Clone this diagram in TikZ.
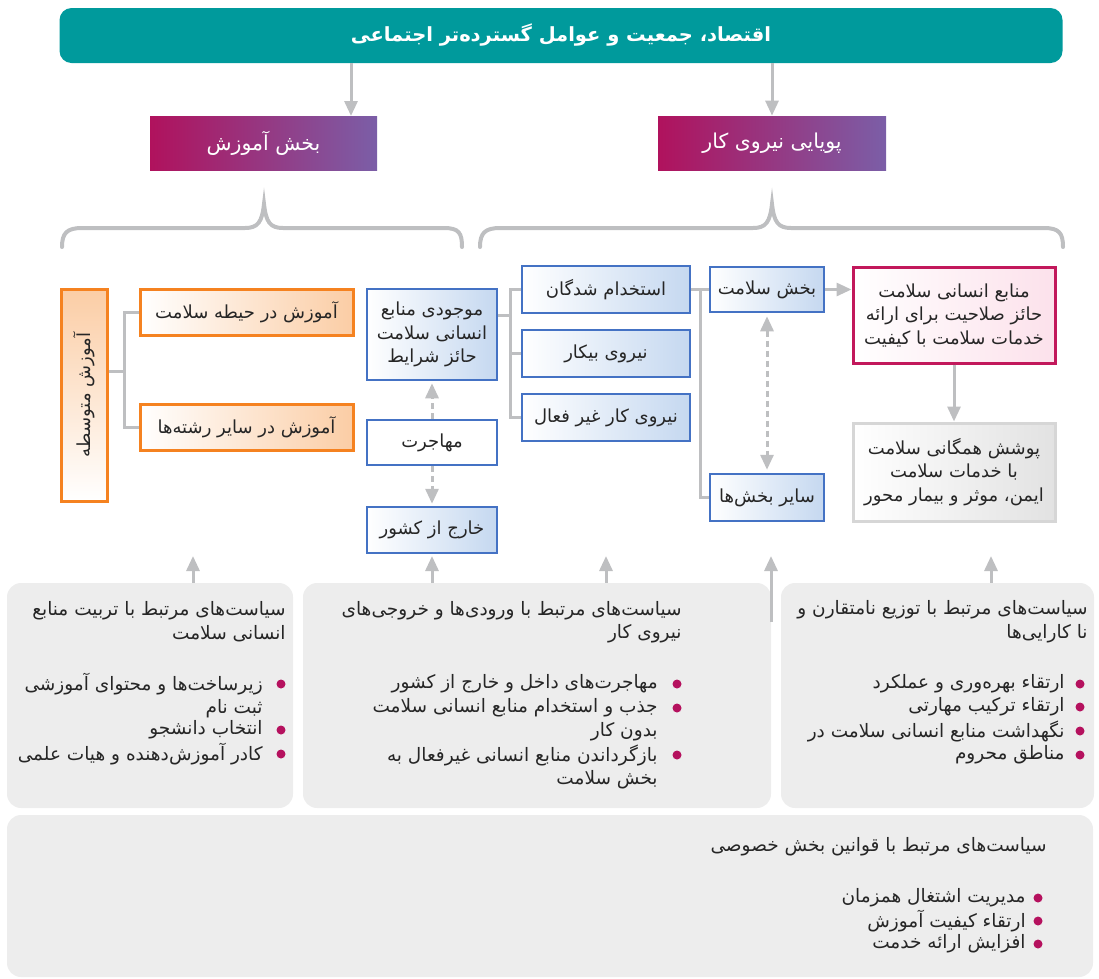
\documentclass[tikz,border=0pt]{standalone}
\usepackage{graphicx}
\usepackage{fontspec}
\usetikzlibrary{arrows.meta}
\newfontfamily\arabicfont[Script=Arabic]{DejaVu Sans}
\TeXXeTstate=1
\newcommand{\fa}[1]{{\arabicfont\beginR #1\endR}}

\definecolor{tealbar}{RGB}{0,154,156}
\definecolor{linegray}{RGB}{190,191,193}
\definecolor{magentaA}{RGB}{176,18,93}
\definecolor{purpleB}{RGB}{123,94,167}
\definecolor{orangeB}{RGB}{245,130,32}
\definecolor{orangeL}{RGB}{251,205,165}
\definecolor{blueB}{RGB}{68,114,196}
\definecolor{blueL}{RGB}{197,216,240}
\definecolor{pinkB}{RGB}{194,24,91}
\definecolor{pinkL}{RGB}{252,225,235}
\definecolor{grayB}{RGB}{214,214,214}
\definecolor{grayL}{RGB}{226,226,226}
\definecolor{policy}{RGB}{237,237,237}
\definecolor{dotc}{RGB}{181,17,94}

\tikzset{every picture/.style={line width=0.75pt}}
\tikzset{
  box/.style={rectangle, inner sep=2pt, align=center, text=black!85,
    font=\fontsize{18}{23.5}\selectfont},
  orangeline/.style={box, draw=orangeB, line width=3pt},
  orangebox/.style={orangeline, left color=white, right color=orangeL},
  bluebox/.style={box, draw=blueB, line width=2.5pt, left color=white, right color=blueL},
  sectorbox/.style={rectangle, minimum width=227pt, minimum height=54pt, text=white,
    left color=magentaA, right color=purpleB, font=\fontsize{20.5}{24}\selectfont},
  policybox/.style={rectangle, fill=policy, rounded corners=14pt},
  ptext/.style={inner sep=0pt, align=right, text=black!85, font=\fontsize{18.5}{23.5}\selectfont},
  dot/.style={circle, fill=dotc, inner sep=0pt, minimum size=9pt},
  conn/.style={draw=linegray, line width=3pt},
  arr/.style={conn, -{Triangle[width=13pt,length=15pt]}},
  dasharr/.style={arr, dash pattern=on 6pt off 4pt},
  brace/.style={draw=linegray, line width=4pt, line cap=round}
}

\begin{document}
\begin{tikzpicture}[x=1pt,y=1pt,yscale=-1]
\useasboundingbox (0,0) rectangle (1099,978);

%Shape: Rounded Rect
\node[rectangle, fill=tealbar, rounded corners=12pt, minimum width=1003pt, minimum height=55pt,
  text=white, font=\fontsize{19.5}{22}\selectfont\bfseries] (top) at (561,35.5)
  {\fa{اقتصاد، جمعیت و عوامل گسترده‌تر اجتماعی}};

% Text Node
\node[sectorbox] (eduhead) at (263.5,143) {\fa{بخش آموزش}};
\node[sectorbox, minimum width=228pt] (labhead) at (772,143) {\fa{پویایی نیروی کار}};

%Straight Lines
\coordinate (a1) at (351,116);
\draw[arr] (top.south -| a1) -- (a1);
\draw[arr] (top.south -| labhead.north) -- (labhead.north);

%Curve Lines
\draw[brace] (62,247) .. controls (62,233) and (67,228) .. (82,228) -- (245,228)
  .. controls (258,228) and (262,222) .. (264,204) .. controls (266,222) and (270,228) .. (283,228)
  -- (444,228) .. controls (459,228) and (462,233) .. (462,247);
\draw[brace] (480,247) .. controls (480,233) and (485,228) .. (500,228) -- (753,228)
  .. controls (766,228) and (770,222) .. (772,204) .. controls (774,222) and (778,228) .. (791,228)
  -- (1044,228) .. controls (1059,228) and (1063,233) .. (1063,247);

%Shape: Rectangle
\node[orangeline, minimum width=46pt, minimum height=212pt,
  top color=orangeL, bottom color=white] (sec) at (84,395)
  {\rotatebox{90}{\fa{آموزش متوسطه}}};
\node[orangebox, minimum width=213pt, minimum height=46pt] (eduH) at (246.5,312) {\fa{آموزش در حیطه سلامت}};
\node[orangebox, minimum width=213pt, minimum height=46pt] (eduO) at (246.5,427) {\fa{آموزش در سایر رشته‌ها}};

\node[bluebox, minimum width=130pt, minimum height=91pt] (stock) at (432,334.5)
  {\fa{موجودی منابع}\\\fa{انسانی سلامت}\\\fa{حائز شرایط}};
\node[box, draw=blueB, line width=2.5pt, fill=white, minimum width=130pt, minimum height=45pt] (migr) at (432,442.5) {\fa{مهاجرت}};
\node[bluebox, minimum width=130pt, minimum height=46pt] (abroad) at (432,530) {\fa{خارج از کشور}};

\node[bluebox, minimum width=168pt, minimum height=47pt] (empl) at (606,289.5) {\fa{استخدام شدگان}};
\node[bluebox, minimum width=168pt, minimum height=47pt] (unemp) at (606,353.5) {\fa{نیروی بیکار}};
\node[bluebox, minimum width=168pt, minimum height=47pt] (inact) at (606,417.5) {\fa{نیروی کار غیر فعال}};

\node[bluebox, minimum width=114pt, minimum height=45pt] (hsec) at (767,289.5) {\fa{بخش سلامت}};
\node[bluebox, minimum width=114pt, minimum height=47pt] (osec) at (767,497.5) {\fa{سایر بخش‌ها}};

\node[box, draw=pinkB, line width=3pt, left color=white, right color=pinkL,
  minimum width=202pt, minimum height=96pt] (qual) at (954,315)
  {\fa{منابع انسانی سلامت}\\\fa{حائز صلاحیت برای ارائه}\\\fa{خدمات سلامت با کیفیت}};
\node[box, draw=grayB, line width=3pt, left color=white, right color=grayL,
  minimum width=202pt, minimum height=98pt] (uhc) at (954,472)
  {\fa{پوشش همگانی سلامت}\\\fa{با خدمات سلامت}\\\fa{ایمن، موثر و بیمار محور}};

%Straight Lines
\coordinate (j1) at (124,371);
\draw[conn] (sec.east |- j1) -- (j1);
\draw[conn] (j1) |- (eduH.west);
\draw[conn] (j1) |- (eduO.west);

\coordinate (j2) at (510,315);
\draw[conn] (stock.east |- j2) -- (j2);
\draw[conn] (j2) |- (empl.west);
\draw[conn] (j2) |- (unemp.west);
\draw[conn] (j2) |- (inact.west);

\coordinate (j3) at (700,289.5);
\draw[conn] (empl.east) -- (hsec.west);
\draw[conn] (j3) |- (osec.west);

\draw[arr] (hsec.east) -- (hsec.east -| qual.west);
\draw[arr] (qual.south) -- (uhc.north);
\draw[dasharr, shorten >=2pt] (migr.north) -- (stock.south);
\draw[dasharr, shorten >=2pt] (migr.south) -- (abroad.north);
\draw[dasharr, {Triangle[width=13pt,length=15pt]}-{Triangle[width=13pt,length=15pt]},
  shorten <=3pt, shorten >=3pt] (hsec.south) -- (osec.north);

%Shape: Rounded Rect
\node[policybox, minimum width=286pt, minimum height=225pt] (pol1) at (150,695.5) {};
\node[policybox, minimum width=468pt, minimum height=225pt] (pol2) at (537,695.5) {};
\node[policybox, minimum width=313pt, minimum height=225pt] (pol3) at (937.5,695.5) {};
\node[policybox, minimum width=1086pt, minimum height=162pt] (pol4) at (550,896) {};

%Straight Lines
\coordinate (t1) at (193,556);
\coordinate (t2) at (432,556);
\coordinate (t3) at (606,556);
\coordinate (t4) at (771,556);
\coordinate (t4b) at (771,622);
\coordinate (t5) at (991,556);
\draw[arr] (pol1.north -| t1) -- (t1);
\draw[arr] (pol2.north -| t2) -- (t2);
\draw[arr] (pol2.north -| t3) -- (t3);
\draw[arr] (t4b) -- (t4);
\draw[arr] (pol3.north -| t5) -- (t5);

% Text Node
\node[ptext, anchor=east] (h1) at (286,621.5) {\fa{سیاست‌های مرتبط با تربیت منابع}\\\fa{انسانی سلامت}};
\node[ptext, anchor=east] (i11) at (263,695.5) {\fa{زیرساخت‌ها و محتوای آموزشی}\\\fa{ثبت نام}};
\node[ptext, anchor=east] (i12) at (263,730) {\fa{انتخاب دانشجو}};
\node[ptext, anchor=east] (i13) at (263,754) {\fa{کادر آموزش‌دهنده و هیات علمی}};
\node[dot] (d11) at (281,684) {};
\node[dot] (d12) at (281,730) {};
\node[dot] (d13) at (281,754) {};

% Text Node
\node[ptext, anchor=east] (h2) at (682,622) {\fa{سیاست‌های مرتبط با ورودی‌ها و خروجی‌های}\\\fa{نیروی کار}};
\node[ptext, anchor=east] (i21) at (658,684) {\fa{مهاجرت‌های داخل و خارج از کشور}};
\node[ptext, anchor=east] (i22) at (658,719.5) {\fa{جذب و استخدام منابع انسانی سلامت}\\\fa{بدون کار}};
\node[ptext, anchor=east] (i23) at (658,767) {\fa{بازگرداندن منابع انسانی غیرفعال به}\\\fa{بخش سلامت}};
\node[dot] (d21) at (677,684) {};
\node[dot] (d22) at (677,708) {};
\node[dot] (d23) at (677,755) {};

% Text Node
\node[ptext, anchor=east] (h3) at (1088,621.5) {\fa{سیاست‌های مرتبط با توزیع نامتقارن و}\\\fa{نا کارایی‌ها}};
\node[ptext, anchor=east] (i31) at (1065,684) {\fa{ارتقاء بهره‌وری و عملکرد}};
\node[ptext, anchor=east] (i32) at (1065,707) {\fa{ارتقاء ترکیب مهارتی}};
\node[ptext, anchor=east] (i33) at (1065,731) {\fa{نگهداشت منابع انسانی سلامت در}};
\node[ptext, anchor=east] (i34) at (1065,755) {\fa{مناطق محروم}};
\node[dot] (d31) at (1080,684) {};
\node[dot] (d32) at (1080,707) {};
\node[dot] (d33) at (1080,731) {};
\node[dot] (d34) at (1080,755) {};

% Text Node
\node[ptext, anchor=east] (h4) at (1047,847) {\fa{سیاست‌های مرتبط با قوانین بخش خصوصی}};
\node[ptext, anchor=east] (i41) at (1026,898) {\fa{مدیریت اشتغال همزمان}};
\node[ptext, anchor=east] (i42) at (1026,921) {\fa{ارتقاء کیفیت آموزش}};
\node[ptext, anchor=east] (i43) at (1026,944) {\fa{افزایش ارائه خدمت}};
\node[dot] (d41) at (1038,898) {};
\node[dot] (d42) at (1038,921) {};
\node[dot] (d43) at (1038,944) {};

\end{tikzpicture}
\end{document}
